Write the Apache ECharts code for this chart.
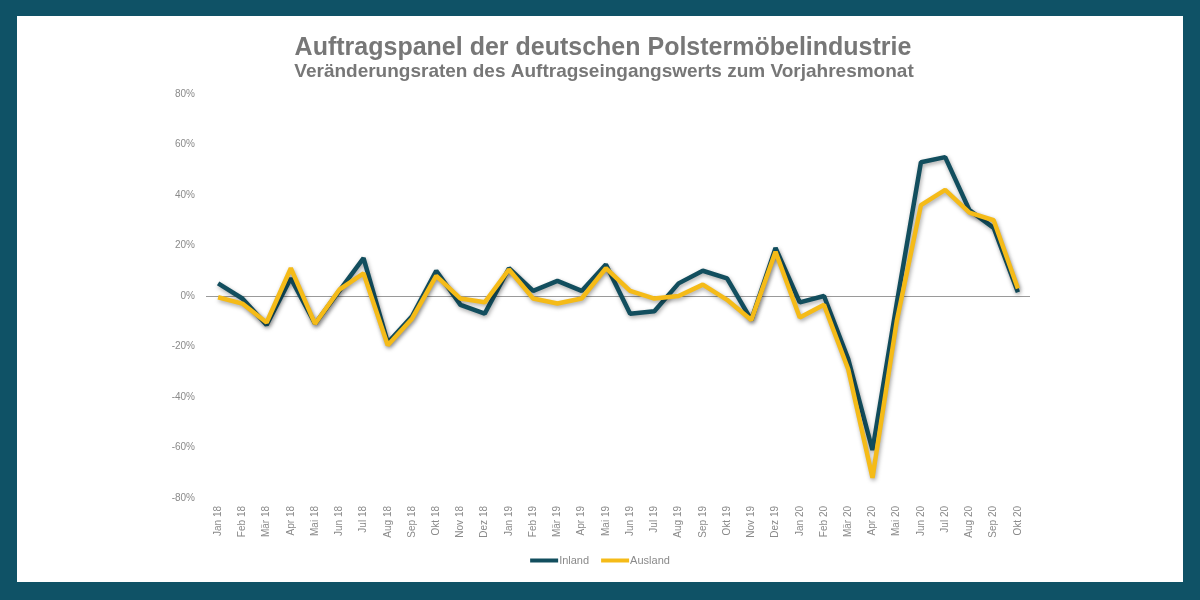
<!DOCTYPE html>
<html>
<head>
<meta charset="utf-8">
<script src="https://cdn.jsdelivr.net/npm/echarts@6/dist/echarts.min.js"></script>
<style>
  html, body { margin: 0; padding: 0; }
  #chart { width: 1200px; height: 600px; }
</style>
</head>
<body>
<div id="chart"></div>
<script>
const months = ['Jan 18', 'Feb 18', 'Mär 18', 'Apr 18', 'Mai 18', 'Jun 18', 'Jul 18', 'Aug 18', 'Sep 18', 'Okt 18', 'Nov 18', 'Dez 18',
  'Jan 19', 'Feb 19', 'Mär 19', 'Apr 19', 'Mai 19', 'Jun 19', 'Jul 19', 'Aug 19', 'Sep 19', 'Okt 19', 'Nov 19', 'Dez 19',
  'Jan 20', 'Feb 20', 'Mär 20', 'Apr 20', 'Mai 20', 'Jun 20', 'Jul 20', 'Aug 20', 'Sep 20', 'Okt 20'];

// Veränderung zum Vorjahresmonat in %
const inland = [5, -1, -11.5, 7, -11, 2, 15, -18.5, -8, 10, -3.5, -7,
  11, 2, 6, 2, 12.5, -7, -6, 5, 10, 7, -9.5, 19,
  -2.5, 0, -25, -61, -3, 53, 55, 34, 27, 1.5];
const ausland = [-0.5, -3, -10.5, 11, -11, 2.5, 9, -19.5, -9, 8, -1, -2.5,
  10.5, -1, -3, -1, 11, 2, -1, 0, 4.5, -1.5, -9.5, 17.5,
  -8.5, -3.5, -29, -72, -10, 36, 42, 33, 30, 3];

const yTicks = { min: -80, max: 80, step: 20 };

const chart = echarts.init(document.getElementById('chart'));

const lineShadow = {
  shadowColor: 'rgba(0,0,0,0.35)',
  shadowBlur: 4,
  shadowOffsetX: 1,
  shadowOffsetY: 2
};

chart.setOption({
  backgroundColor: '#0f5266',
  animation: false,
  graphic: [{
    type: 'rect',
    z: -10,
    shape: { x: 17, y: 16, width: 1166, height: 566 },
    style: { fill: '#ffffff' }
  }],
  title: [{
    text: 'Auftragspanel der deutschen Polstermöbelindustrie',
    left: 598, top: 31, textAlign: 'center',
    textStyle: { fontFamily: 'Liberation Sans', fontWeight: 'bold', fontSize: 25, color: '#777777' }
  }, {
    text: 'Veränderungsraten des Auftragseingangswerts zum Vorjahresmonat',
    left: 599, top: 57, textAlign: 'center',
    textStyle: { fontFamily: 'Liberation Sans', fontWeight: 'bold', fontSize: 19, color: '#777777' }
  }],
  legend: {
    bottom: 29,
    left: 'center',
    icon: 'rect',
    itemWidth: 28,
    itemHeight: 4,
    itemGap: 12,
    textStyle: { fontFamily: 'Liberation Sans', fontSize: 11, color: '#8a8a8a', padding: [0, 0, 0, -4] },
    data: ['Inland', 'Ausland']
  },
  grid: { left: 206, right: 170, top: 94, bottom: 102 },
  xAxis: {
    type: 'category',
    data: months,
    boundaryGap: true,
    axisLine: { show: false },
    axisTick: { show: false },
    axisLabel: {
      rotate: 90,
      interval: 0,
      margin: 8,
      fontFamily: 'Liberation Sans',
      fontSize: 10,
      color: '#8a8a8a'
    }
  },
  yAxis: {
    type: 'value',
    min: yTicks.min,
    max: yTicks.max,
    interval: yTicks.step,
    axisLine: { show: false },
    axisTick: { show: false },
    splitLine: { show: false },
    axisLabel: {
      margin: 11,
      fontFamily: 'Liberation Sans',
      fontSize: 10,
      color: '#8a8a8a',
      formatter: v => v + '%'
    }
  },
  series: [{
    name: 'Inland',
    type: 'line',
    data: inland,
    symbol: 'none',
    color: '#124e5e',
    lineStyle: Object.assign({ width: 4.5, color: '#124e5e' }, lineShadow),
    markLine: {
      silent: true,
      symbol: 'none',
      label: { show: false },
      lineStyle: { color: '#9a9a9a', width: 1, type: 'solid' },
      data: [{ yAxis: 0 }],
      z: 1
    },
    z: 2
  }, {
    name: 'Ausland',
    type: 'line',
    data: ausland,
    symbol: 'none',
    color: '#f5bb18',
    lineStyle: Object.assign({ width: 4.5, color: '#f5bb18' }, lineShadow),
    z: 3
  }]
});
</script>
</body>
</html>
